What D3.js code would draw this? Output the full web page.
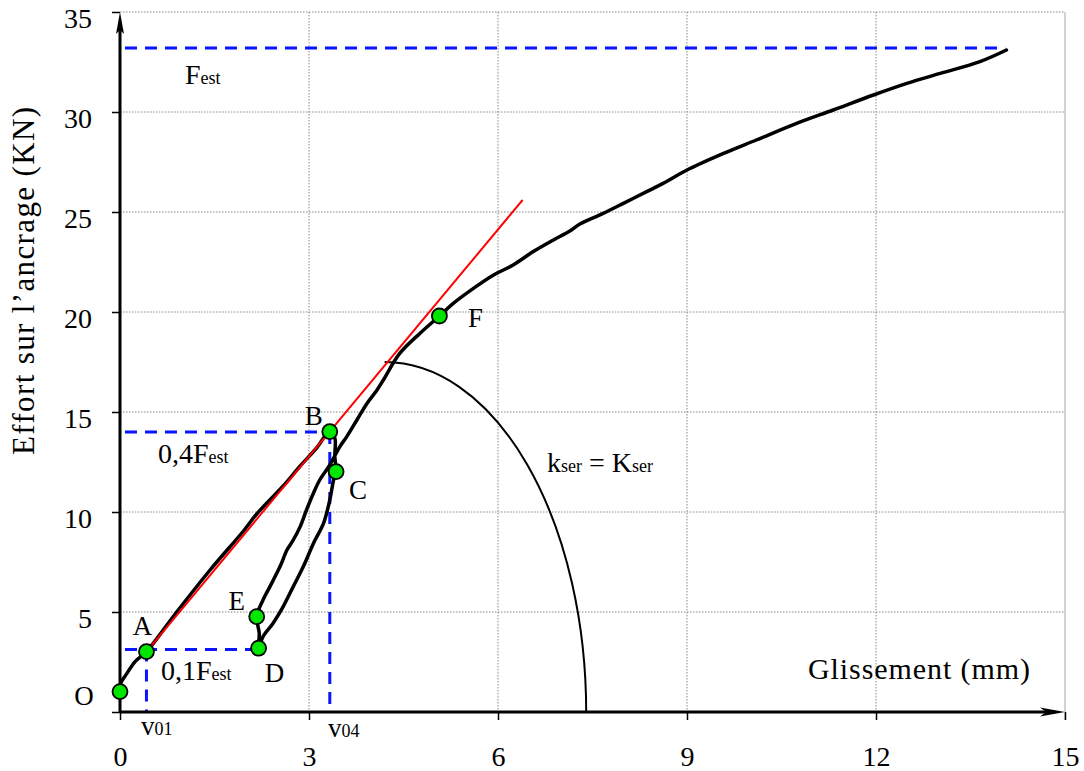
<!DOCTYPE html>
<html>
<head>
<meta charset="utf-8">
<script src="https://cdn.jsdelivr.net/npm/d3@7"></script>
<style>
  body { margin: 0; background: #fff; }
  text { font-family: "Liberation Serif", "Times New Roman", serif; fill: #000; }
</style>
</head>
<body>
<script>
// load-slip curve (Glissement mm / Effort kN)
var curveX = [0, 0.01, 0.11, 0.24, 0.42, 0.9, 1.43, 1.96, 2.17, 2.59, 2.86, 3.12, 3.33,
  3.41, 3.41, 3.43,
  3.39, 3.33, 3.23, 3.07, 2.91, 2.75, 2.59, 2.43, 2.27, 2.20,
  2.21, 2.17,
  2.27, 2.38, 2.54, 2.65, 2.75, 2.86, 2.96, 3.07, 3.17, 3.33, 3.49, 3.60, 3.76, 3.92, 4.08, 4.18,
  4.44, 4.76, 5.07, 5.29, 5.61, 5.93, 6.24, 6.56, 6.88, 7.14, 7.30, 7.67, 7.99, 8.36, 8.62,
  9.0, 9.58, 10.1, 10.74, 11.32, 11.96, 12.49, 13.02, 13.65, 14.07];
var curveY = [1.02, 1.43, 1.93, 2.52, 3.02, 5.0, 7.1, 9.05, 9.9, 11.3, 12.3, 13.2, 14.02,
  13.7, 12.77, 12.02,
  11.6, 10.6, 9.43, 8.43, 7.27, 6.27, 5.27, 4.44, 3.77, 3.19,
  3.94, 4.77,
  5.6, 6.27, 7.27, 8.1, 8.6, 9.27, 10.1, 10.94, 11.6, 12.35, 13.27, 13.77, 14.6, 15.43, 16.1, 16.6,
  17.93, 18.93, 19.8, 20.43, 21.18, 21.85, 22.35, 23.02, 23.6, 24.05, 24.4, 24.93, 25.43, 26.02, 26.43,
  27.1, 27.93, 28.6, 29.43, 30.1, 30.85, 31.43, 31.93, 32.52, 33.1];

var pointNames = ["O", "A", "B", "C", "D", "E", "F"];
var pointX = [0, 0.42, 3.33, 3.43, 2.20, 2.17, 5.07];
var pointY = [1.02, 3.02, 14.02, 12.02, 3.19, 4.77, 19.8];

// tangent A-B (red)
var tangentX = [0.42, 6.39];
var tangentY = [3.02, 25.6];

// blue reference levels
var fEst = 33.2, f04 = 14.0, f01 = 3.12;
var v01 = 0.42, v04 = 3.33, fEstEnd = 14.05, f01End = 2.20;

// arc kser = Kser
var arcCenterX = 4.2, arcEndX = 7.4, arcTopY = 17.5;

var xTicks = [0, 3, 6, 9, 12, 15];
var yTicks = [0, 5, 10, 15, 20, 25, 30, 35];

var W = 1084, H = 771;
var x = d3.scaleLinear().domain([0, 15]).range([120, 1065]);
var y = d3.scaleLinear().domain([0, 35]).range([712, 12]);

var svg = d3.select("body").append("svg")
    .attr("width", W)
    .attr("height", H);

// GRID
svg.append("g").selectAll("line.gx")
    .data(xTicks.slice(1, -1))
    .enter().append("line")
    .attr("x1", function(d) { return x(d); })
    .attr("x2", function(d) { return x(d); })
    .attr("y1", y(35)).attr("y2", y(0))
    .attr("stroke", "#888").attr("stroke-width", 1)
    .attr("stroke-dasharray", "1.5,1.5");
svg.append("line")
    .attr("x1", x(15)).attr("x2", x(15))
    .attr("y1", y(35)).attr("y2", y(0) + 8)
    .attr("stroke", "#c4c4c4").attr("stroke-width", 1.5);
svg.append("g").selectAll("line.gy")
    .data(yTicks.slice(1))
    .enter().append("line")
    .attr("x1", x(0)).attr("x2", x(15))
    .attr("y1", function(d) { return y(d); })
    .attr("y2", function(d) { return y(d); })
    .attr("stroke", "#888").attr("stroke-width", 1)
    .attr("stroke-dasharray", "1.5,1.5");

// BLUE DASHED LINES
var blue = svg.append("g")
    .attr("stroke", "#0a14ff").attr("stroke-width", 3)
    .attr("stroke-dasharray", "12,8").attr("fill", "none");
blue.append("line").attr("x1", x(0) + 5).attr("x2", x(fEstEnd)).attr("y1", y(fEst)).attr("y2", y(fEst));
blue.append("line").attr("x1", x(0) + 5).attr("x2", x(v04)).attr("y1", y(f04)).attr("y2", y(f04));
blue.append("line").attr("x1", x(v04)).attr("x2", x(v04)).attr("y1", y(f04)).attr("y2", y(0));
blue.append("line").attr("x1", x(0) + 5).attr("x2", x(f01End)).attr("y1", y(f01)).attr("y2", y(f01));
blue.append("line").attr("x1", x(v01)).attr("x2", x(v01)).attr("y1", y(f01)).attr("y2", y(0));

// ARC
var rx = x(arcEndX) - x(arcCenterX), ry = y(0) - y(arcTopY);
svg.append("path")
    .attr("d", "M" + x(arcCenterX) + "," + y(arcTopY) + " A" + rx + "," + ry + " 0 0 1 " + x(arcEndX) + "," + y(0))
    .attr("fill", "none").attr("stroke", "#000").attr("stroke-width", 2);

// MAIN CURVE
var curve = curveX.map(function(d, i) { return [d, curveY[i]]; });
var line = d3.line()
    .x(function(d) { return x(d[0]); })
    .y(function(d) { return y(d[1]); })
    .curve(d3.curveCatmullRom.alpha(0.5));
svg.append("path")
    .datum(curve)
    .attr("d", line)
    .attr("fill", "none").attr("stroke", "#000")
    .attr("stroke-width", 3.5).attr("stroke-linejoin", "round").attr("stroke-linecap", "round");

// TANGENT
svg.append("line")
    .attr("x1", x(tangentX[0])).attr("y1", y(tangentY[0]))
    .attr("x2", x(tangentX[1])).attr("y2", y(tangentY[1]))
    .attr("stroke", "#ff0000").attr("stroke-width", 2);

// AXES
var yAxis = svg.append("g")
    .attr("transform", "translate(" + x(0) + ",0)")
    .call(d3.axisLeft(y).tickValues(yTicks).tickSize(8).tickPadding(20)
        .tickFormat(function(d) { return d === 0 ? "" : d; }));
yAxis.select(".domain").remove();
yAxis.selectAll("line").attr("stroke", "#000").attr("stroke-width", 1.5);
yAxis.selectAll("text").attr("font-size", 28).attr("font-family", "Liberation Serif").attr("dy", "0.57em");

var xAxis = svg.append("g")
    .attr("transform", "translate(0," + y(0) + ")")
    .call(d3.axisBottom(x).tickValues(xTicks).tickSize(8));
xAxis.select(".domain").remove();
xAxis.selectAll("line").attr("stroke", "#000").attr("stroke-width", 1.5);
xAxis.selectAll("text").attr("font-size", 28).attr("font-family", "Liberation Serif")
    .attr("y", 54).attr("dy", null);

svg.append("line").attr("x1", x(0)).attr("x2", x(15) - 10).attr("y1", y(0)).attr("y2", y(0))
    .attr("stroke", "#000").attr("stroke-width", 3);
svg.append("line").attr("x1", x(0)).attr("x2", x(0)).attr("y1", y(0) + 1).attr("y2", y(35) + 10)
    .attr("stroke", "#000").attr("stroke-width", 3);
svg.append("path")
    .attr("d", "M" + x(15) + "," + y(0) + " l-25,-4.5 l6,4.5 l-6,4.5 Z").attr("fill", "#000");
svg.append("path")
    .attr("d", "M" + x(0) + "," + y(35) + " l4,22 l-4,-4 l-4,4 Z").attr("fill", "#000");

// POINTS
svg.append("g").selectAll("circle")
    .data(pointNames)
    .enter().append("circle")
    .attr("cx", function(d, i) { return x(pointX[i]); })
    .attr("cy", function(d, i) { return y(pointY[i]); })
    .attr("r", 7.5)
    .attr("fill", "#00e600").attr("stroke", "#000").attr("stroke-width", 1.8);

var labelOffset = {O: [-36, 13], A: [-4, -17], B: [-16, -7], C: [22, 27], D: [16, 34], E: [-20, -7], F: [36, 11]};
svg.append("g").selectAll("text")
    .data(pointNames)
    .enter().append("text")
    .attr("x", function(d, i) { return x(pointX[i]) + labelOffset[d][0]; })
    .attr("y", function(d, i) { return y(pointY[i]) + labelOffset[d][1]; })
    .attr("text-anchor", "middle")
    .attr("font-size", 27)
    .text(function(d) { return d; });

// SUBSCRIPT LABELS
function subLabel(px, py, big, small, big2, small2) {
    var t = svg.append("text").attr("x", px).attr("y", py).attr("font-size", 28);
    t.append("tspan").text(big);
    t.append("tspan").attr("font-size", 18).text(small);
    if (big2) {
        t.append("tspan").text(big2);
        t.append("tspan").attr("font-size", 18).text(small2);
    }
    return t;
}
subLabel(185, 84, "F", "est");
subLabel(158, 463, "0,4F", "est");
subLabel(161, 680, "0,1F", "est");
subLabel(547, 472, "k", "ser", " = K", "ser");
var tv1 = svg.append("text").attr("x", 141).attr("y", 735).attr("font-size", 27);
tv1.append("tspan").text("v");
tv1.append("tspan").attr("font-size", 18).text("01");
var tv4 = svg.append("text").attr("x", 328).attr("y", 737).attr("font-size", 27);
tv4.append("tspan").text("v");
tv4.append("tspan").attr("font-size", 18).text("04");

// AXIS TITLES
svg.append("text")
    .attr("x", 808).attr("y", 679)
    .attr("font-size", 30)
    .attr("textLength", 222).attr("lengthAdjust", "spacing")
    .text("Glissement (mm)");
svg.append("text")
    .attr("transform", "translate(34,281) rotate(-90)")
    .attr("text-anchor", "middle")
    .attr("font-size", 31)
    .attr("textLength", 348).attr("lengthAdjust", "spacing")
    .text("Effort sur l\u2019ancrage (KN)");
</script>
</body>
</html>
